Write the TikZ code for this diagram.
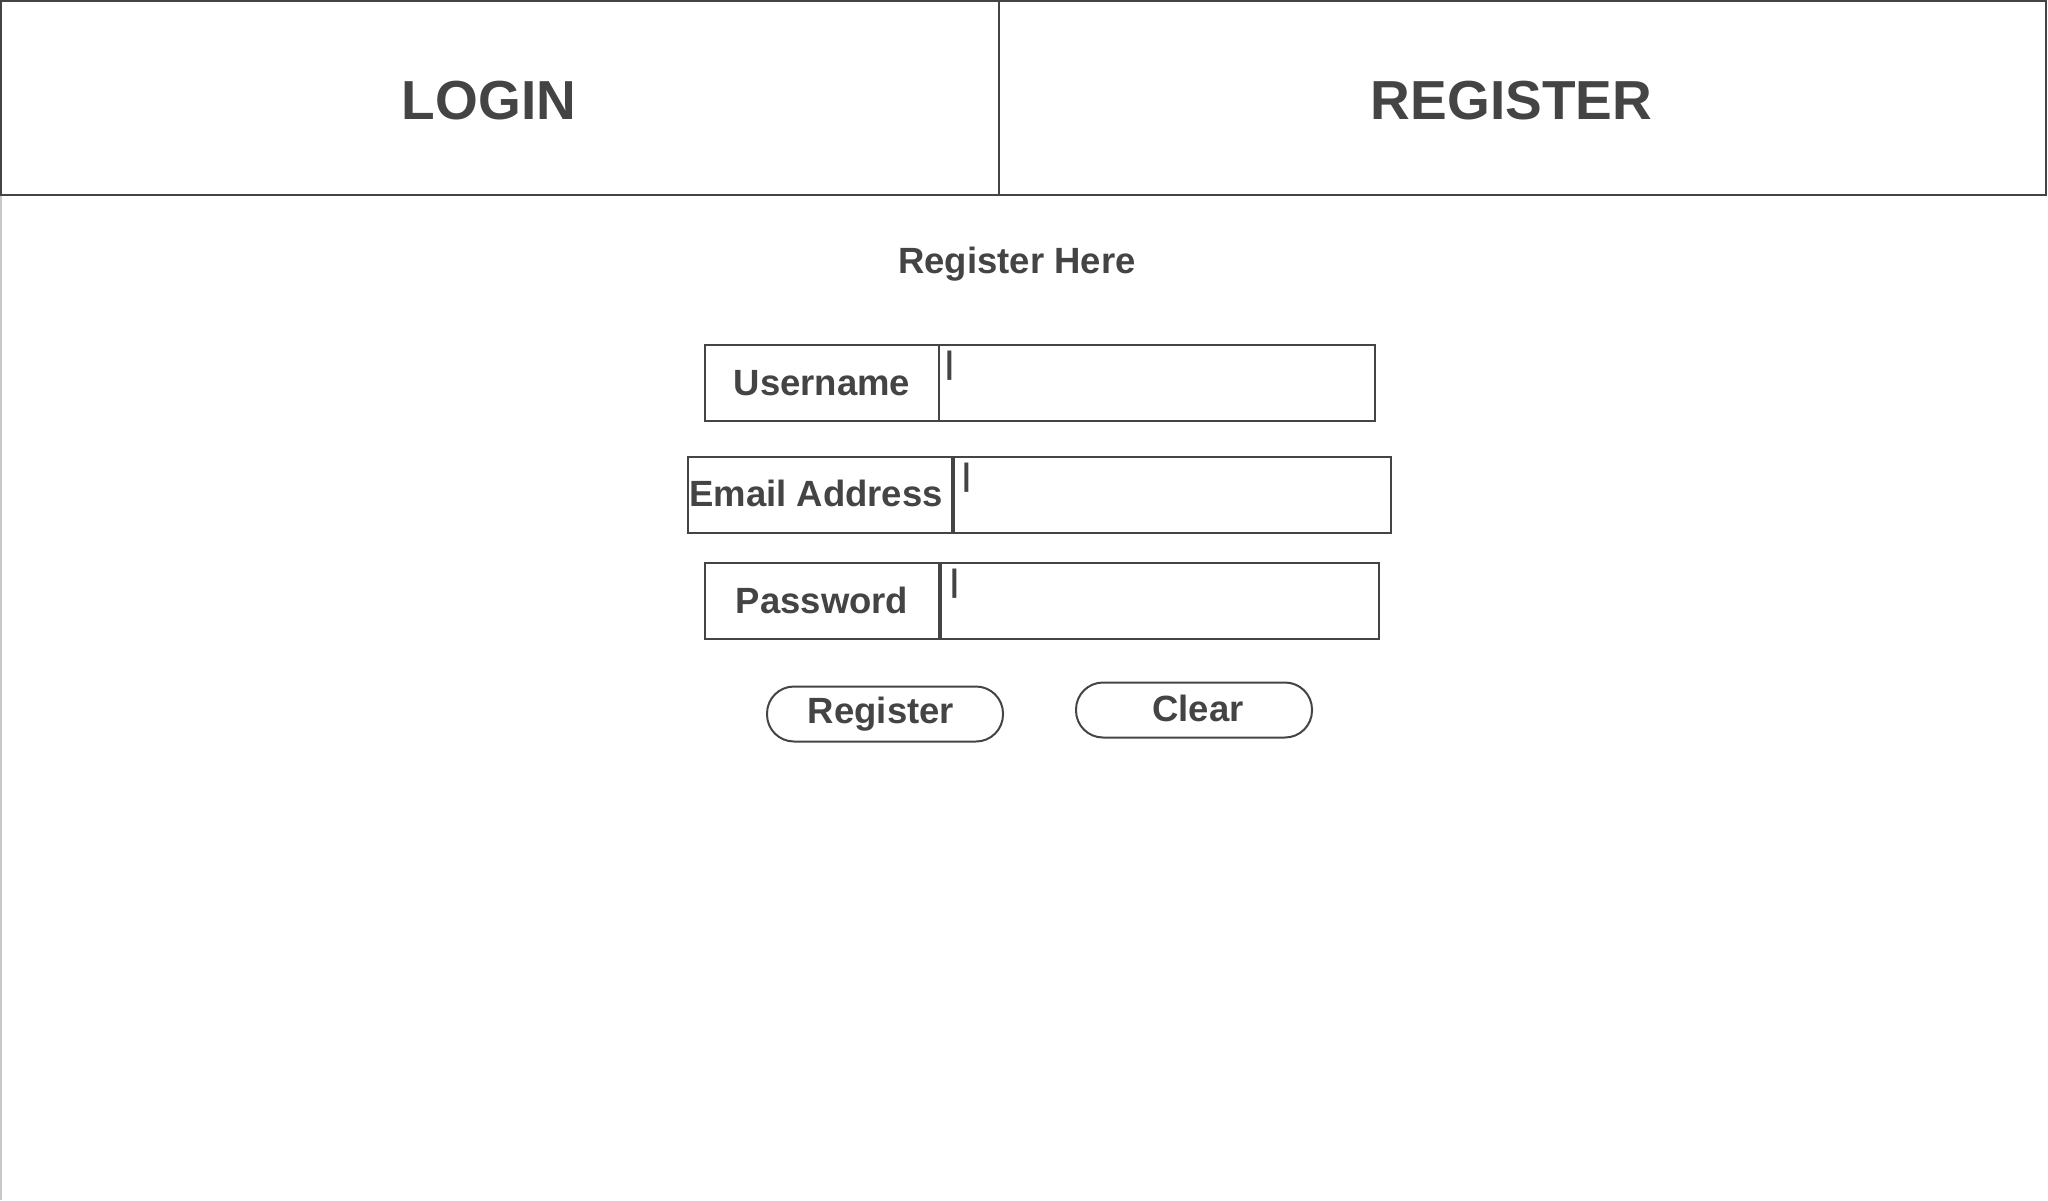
\documentclass[tikz,border=0pt]{standalone}
\usepackage{fontspec}
\setmainfont{Liberation Sans}
\usepackage{tikz}
\usetikzlibrary{
	positioning
}
\definecolor{ink}{HTML}{444444}
\definecolor{rail}{HTML}{C8C8C8}

\begin{document}
\begin{tikzpicture}[x=1pt,y=-1pt,
		ink line/.style={draw=ink,line width=2pt},
		tab/.style={ink line,minimum height=194pt,inner sep=0pt},
		tab text/.style={inner sep=0pt,text=ink,font=\bfseries\fontsize{55}{62}\selectfont,xshift=-11pt,yshift=-3pt},
		heading/.style={inner sep=0pt,text=ink,font=\bfseries\fontsize{36.5}{42}\selectfont},
		field label/.style={ink line,minimum height=76pt,inner sep=0pt,text=ink,font=\bfseries\fontsize{36.5}{42}\selectfont},
		field/.style={ink line,minimum height=76pt,inner sep=0pt},
		caret/.style={inner sep=0pt,text=ink,font=\bfseries\fontsize{31}{31}\selectfont},
		button/.style={ink line,rounded corners=27pt,minimum width=236pt,minimum height=55pt,inner sep=0pt,text=ink,font=\bfseries\fontsize{36.5}{42}\selectfont}
	]
		\useasboundingbox (0,0) rectangle (2048,1200);

		% tabs
		\node[tab,minimum width=998pt,anchor=north west,label={[tab text]center:LOGIN}] (login) at (0,0) {};
		\node[tab,minimum width=1047pt,right=-2pt of login,label={[tab text]center:REGISTER}] (register) {};
		\coordinate (rail top) at (0.75,196);
		\coordinate (rail foot) at (0.75,1200);
		\draw[rail,line width=1.5pt] (rail top) -- (rail foot);

		\node[heading] (title) at (1017,264) {Register Here};

		% form
		\node[field label,minimum width=234pt,anchor=north west] (user) at (704,344) {Username};
		\node[field,minimum width=436pt,right=-2pt of user] (user field) {};
		\node[caret,below right=7pt and 7pt of user field.north west] (user caret) {|};

		\node[field label,minimum width=264pt,anchor=north west] (mail) at (687,456) {\hspace*{-8pt}\raisebox{3pt}{Email Address}};
		\node[field,minimum width=437pt,right=0pt of mail] (mail field) {};
		\node[caret,below right=7pt and 9pt of mail field.north west] (mail caret) {|};

		\node[field label,minimum width=234pt,anchor=north west] (pass) at (704,562) {\raisebox{2pt}{Password}};
		\node[field,minimum width=438pt,right=0pt of pass] (pass field) {};
		\node[caret,below right=7pt and 10pt of pass field.north west] (pass caret) {|};

		% buttons
		\node[button] (send) at (885,714) {\hspace*{-8pt}Register};
		\node[button] (clear) at (1194,710) {\raisebox{3pt}{Clear}\hspace*{-8pt}};
	\end{tikzpicture}
\end{document}
